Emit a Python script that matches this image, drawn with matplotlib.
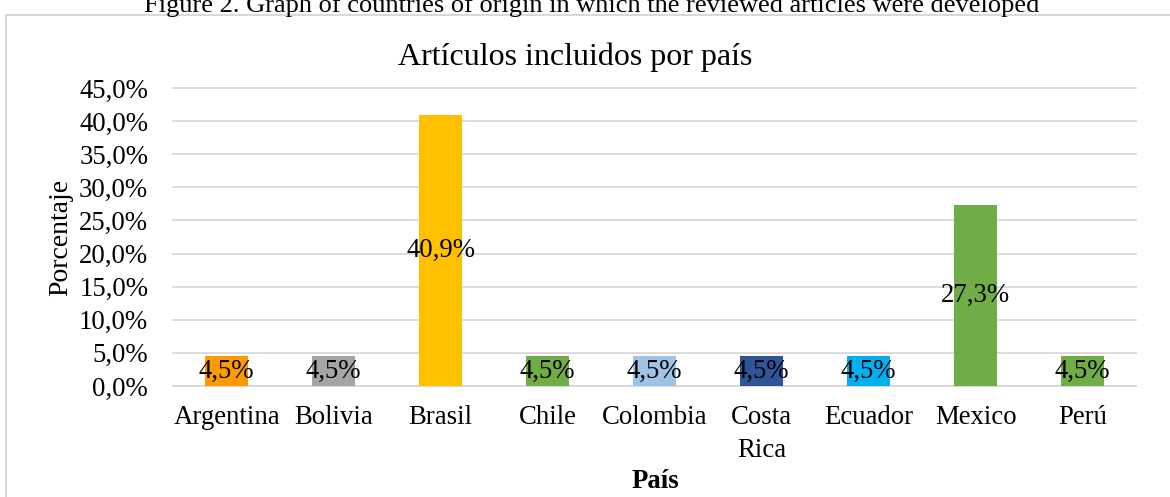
import matplotlib
matplotlib.use("Agg")
import matplotlib.pyplot as plt
from matplotlib.patches import Rectangle
from matplotlib.ticker import FuncFormatter

countries = ["Argentina", "Bolivia", "Brasil", "Chile", "Colombia", "Costa\nRica",
             "Ecuador", "Mexico", "Perú"]
values = [4.5, 4.5, 40.9, 4.5, 4.5, 4.5, 4.5, 27.3, 4.5]
colors = ["#FF9900", "#A5A5A5", "#FFC000", "#70AD47", "#9DC3E6", "#2F5597",
          "#00B0F0", "#70AD47", "#70AD47"]
yticks = [0, 5, 10, 15, 20, 25, 30, 35, 40, 45]

plt.rcParams['font.family'] = ['Liberation Serif', 'DejaVu Serif']

fig = plt.figure(figsize=(11.7, 4.97), dpi=100)
ax = fig.add_axes([0.148, 0.2233, 0.823, 0.5997])

# chart border
fig.patches.append(Rectangle((6 / 1170, -0.1), 1.2, 1 - 15 / 497 + 0.1,
                             transform=fig.transFigure, fill=False,
                             edgecolor="#d9d9d9", linewidth=1.5))

x = list(range(len(countries)))
bars = ax.bar(x, values, width=0.4, color=colors, zorder=3)
for xi, v in zip(x, values):
    ax.text(xi, v / 2, f"{v:.1f}%".replace(".", ","), ha="center", va="center",
            fontsize=19.3, zorder=4)

ax.set_xlim(-0.5, len(countries) - 0.5)
ax.set_ylim(0, 45)
ax.set_yticks(yticks)
ax.yaxis.set_major_formatter(FuncFormatter(lambda v, p: f"{v:.1f}%".replace(".", ",")))
ax.set_xticks(x)
ax.set_xticklabels(countries, linespacing=1.4)
ax.tick_params(axis="both", length=0, labelsize=19.3)
ax.tick_params(axis="y", pad=18)
ax.tick_params(axis="x", pad=14)
ax.grid(axis="y", color="#d9d9d9", linewidth=1.3, zorder=0)
for gl in ax.yaxis.get_gridlines():
    gl.set_clip_on(False)
for s in ["top", "right", "left"]:
    ax.spines[s].set_visible(False)
ax.spines["bottom"].set_color("#d9d9d9")
ax.spines["bottom"].set_linewidth(1.3)

fig.text(61 / 1170, 1 - 237 / 497, "Porcentaje", rotation=90, ha="center",
         va="center", fontsize=20)
fig.text(655 / 1170, 3 / 497, "País", ha="center", va="bottom",
         fontsize=19.3, fontweight="bold")
fig.text(575 / 1170, 1 - 57 / 497, "Artículos incluidos por país", ha="center",
         va="center", fontsize=23)
fig.text(592 / 1170, 1 - 12 / 497,
         "Figure 2. Graph of countries of origin in which the reviewed articles were developed",
         ha="center", va="baseline", fontsize=19)

fig.savefig("out.png", dpi=100)
